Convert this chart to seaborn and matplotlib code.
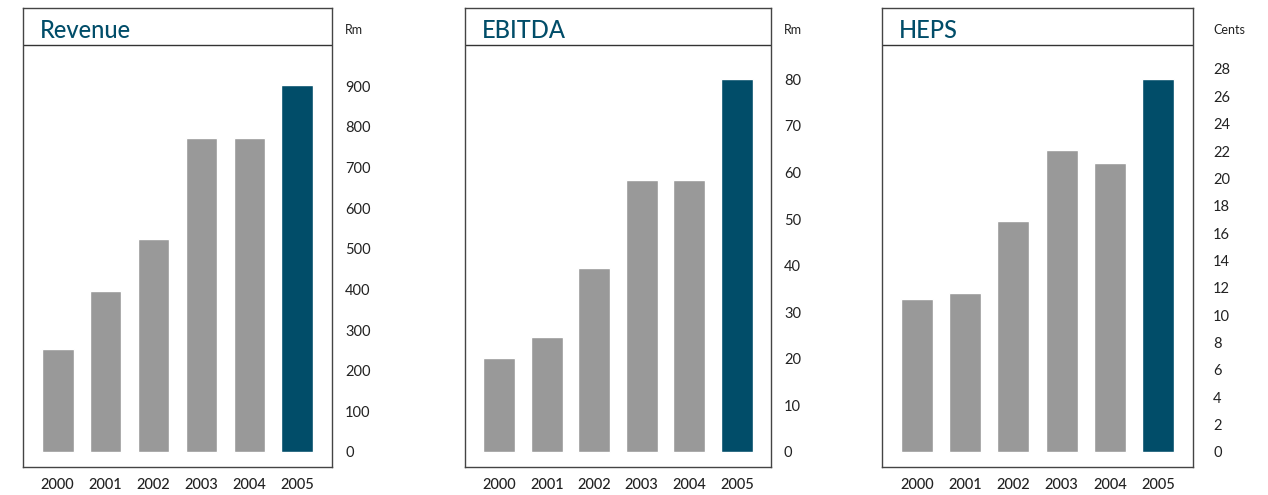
import numpy as np
import pandas as pd
import seaborn as sns
import matplotlib.pyplot as plt

# values
years = ['2000', '2001', '2002', '2003', '2004', '2005']
revenue = [253, 396, 524, 772, 772, 902]
ebitda = [20.2, 24.7, 39.5, 58.4, 58.4, 80.0]
heps = [11.2, 11.6, 16.9, 22.1, 21.1, 27.3]

titles = ['Revenue', 'EBITDA', 'HEPS']
units = ['Rm', 'Rm', 'Cents']
ticks = [list(range(0, 901, 100)), list(range(0, 81, 10)), list(range(0, 29, 2))]

grey = '#999999'
dark = '#014d69'
colours = [grey] * 5 + [dark]

sns.set_theme(style='white')
plt.rcParams['font.family'] = ['Lato', 'DejaVu Sans']

fig = plt.figure(figsize=(12.68, 4.95), dpi=100)
W, H = 1268, 495

# panel boxes in pixels: left, right ; top 8, bottom 467
boxes = [(23, 332), (465, 771), (882, 1193)]
ylims = [(-36.9, 1092), (-3.22, 95.3), (-1.10, 32.46)]
label_gap = [13, 13, 20]

for i, vals in enumerate([revenue, ebitda, heps]):
    x0, x1 = boxes[i]
    ax = fig.add_axes([x0 / W, (H - 467) / H, (x1 - x0) / W, 459 / H])
    df = pd.DataFrame({'year': years, 'value': vals})
    sns.barplot(data=df, x='year', y='value', hue='year', palette=colours,
                legend=False, width=0.665, saturation=1, ax=ax)
    ax.set_xlim(-0.72, 5.72)
    ax.set_ylim(*ylims[i])
    ax.set_xlabel('')
    ax.set_ylabel('')
    ax.yaxis.tick_right()
    ax.set_yticks(ticks[i])
    ax.tick_params(axis='y', length=0, pad=label_gap[i] * 0.72, labelsize=10.5,
                   labelcolor='#222222')
    ax.tick_params(axis='x', length=0, pad=8, labelsize=10.5, labelcolor='#222222')
    for lab in ax.get_xticklabels():
        lab.set_fontweight('medium')
    for s in ax.spines.values():
        s.set_visible(True)
        s.set_color('#444444')
        s.set_linewidth(1.0)
    # title strip
    ax.axhline(ylims[i][1] - (ylims[i][1] - ylims[i][0]) * 37 / 459,
               color='#333333', lw=1.0)
    ax.text(17 / (x1 - x0), (467 - 30) / 459, titles[i], transform=ax.transAxes,
            fontsize=17, color=dark, ha='left', va='center', fontweight='medium')
    ax.text(1 + label_gap[i] / (x1 - x0), (467 - 30) / 459, units[i],
            transform=ax.transAxes, fontsize=9, color='#222222',
            ha='left', va='center')

fig.savefig('out.png', dpi=100, facecolor='white')
